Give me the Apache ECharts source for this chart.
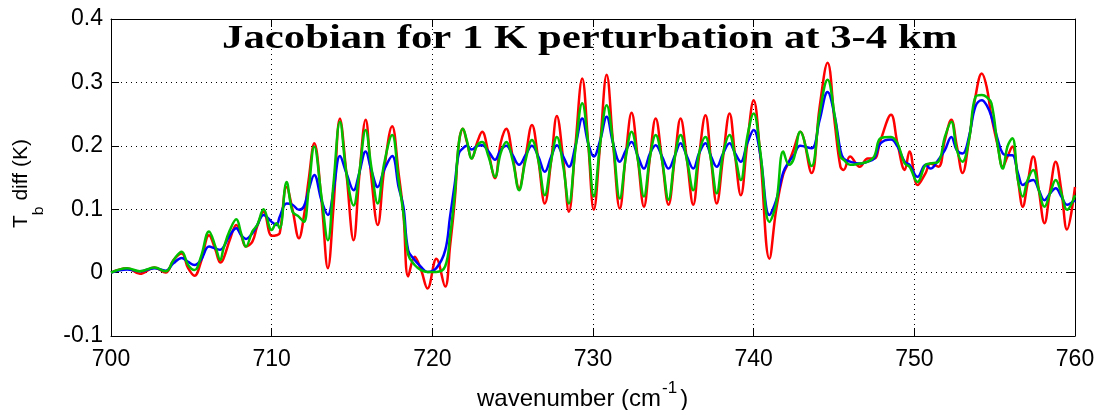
<!DOCTYPE html>
<html>
<head>
<meta charset="utf-8">
<script src="https://cdn.jsdelivr.net/npm/echarts@6/dist/echarts.min.js"></script>
<style>
html,body{margin:0;padding:0;background:#fff;}
#chart{width:1108px;height:410px;}
</style>
</head>
<body>
<div id="chart"></div>
<script>
const titleText = 'Jacobian for 1 K perturbation at 3-4 km';
const xTitleParts = ['wavenumber (cm', '-1', ')'];
const yTitleParts = ['T', 'b', ' diff (K)'];
const xTicks = [700, 710, 720, 730, 740, 750, 760];
const yTicks = [-0.1, 0, 0.1, 0.2, 0.3, 0.4];

const wavenumber = [
700.0,701.0,701.8,702.7,703.4,703.9,704.4,704.8,705.2,705.6,
706.1,706.5,706.8,707.0,707.4,707.8,708.1,708.4,708.8,709.1,
709.5,710.0,710.3,710.5,710.93,711.3,711.7,712.0,712.3,712.65,
713.1,713.5,713.85,714.25,714.65,715.1,715.45,715.85,716.2,716.6,
717.0,717.5,717.9,718.2,718.5,718.9,719.3,719.7,720.25,720.8,
721.1,721.4,721.65,721.9,722.15,722.45,722.8,723.1,723.5,723.9,
724.25,724.6,725.0,725.4,725.8,726.2,726.6,727.0,727.4,727.75,
728.15,728.5,728.9,729.33,729.7,730.05,730.45,730.85,731.25,731.67,
732.05,732.4,732.8,733.17,733.55,733.9,734.3,734.7,735.1,735.45,
735.85,736.24,736.6,737.0,737.35,737.7,738.1,738.5,738.85,739.2,
739.6,740.0,740.4,740.98,741.4,741.84,742.2,742.5,742.9,743.6,
744.1,744.6,745.05,745.4,745.6,746.0,746.6,747.1,747.5,747.9,
748.55,748.95,749.4,749.7,750.2,750.7,751.0,751.5,751.9,752.3,
752.65,753.0,753.4,753.8,754.2,754.5,754.8,755.2,755.5,755.8,
756.1,756.45,756.75,757.05,757.4,757.75,758.1,758.45,758.8,759.15,
759.5,760.0
];

const redTb = [
0.000,0.007,-0.002,0.008,0.000,0.020,0.030,0.007,-0.005,0.017,
0.059,0.036,0.016,0.022,0.052,0.075,0.059,0.041,0.049,0.073,
0.096,0.058,0.059,0.062,0.135,0.099,0.054,0.088,0.146,0.204,
0.114,0.007,0.104,0.243,0.157,0.051,0.151,0.241,0.151,0.075,
0.162,0.231,0.157,0.093,-0.006,0.025,0.004,-0.025,0.022,-0.022,
0.041,0.115,0.204,0.227,0.206,0.180,0.206,0.222,0.188,0.149,
0.204,0.227,0.183,0.133,0.183,0.233,0.177,0.109,0.177,0.247,
0.177,0.096,0.199,0.306,0.204,0.099,0.204,0.312,0.204,0.101,
0.188,0.252,0.177,0.104,0.183,0.243,0.177,0.107,0.183,0.243,
0.177,0.107,0.183,0.248,0.177,0.109,0.183,0.251,0.183,0.122,
0.204,0.272,0.188,0.022,0.099,0.155,0.175,0.195,0.222,0.157,
0.260,0.331,0.235,0.167,0.162,0.183,0.167,0.180,0.180,0.209,
0.249,0.204,0.162,0.191,0.138,0.157,0.172,0.167,0.209,0.241,
0.199,0.157,0.209,0.277,0.314,0.293,0.246,0.199,0.167,0.183,
0.199,0.146,0.104,0.141,0.183,0.130,0.078,0.130,0.175,0.130,
0.068,0.135
];

const greenTb = [
0.000,0.007,0.002,0.008,0.002,0.020,0.033,0.012,0.004,0.025,
0.065,0.041,0.020,0.038,0.067,0.084,0.062,0.041,0.065,0.075,
0.100,0.067,0.078,0.070,0.143,0.096,0.088,0.080,0.130,0.199,
0.120,0.051,0.141,0.238,0.157,0.106,0.157,0.225,0.167,0.109,
0.172,0.217,0.146,0.093,0.028,0.012,0.004,0.001,0.001,0.010,
0.057,0.125,0.204,0.227,0.208,0.180,0.201,0.206,0.183,0.151,
0.188,0.206,0.177,0.130,0.177,0.209,0.177,0.122,0.177,0.214,
0.167,0.109,0.193,0.267,0.204,0.120,0.204,0.264,0.204,0.117,
0.183,0.222,0.177,0.120,0.183,0.217,0.177,0.115,0.183,0.217,
0.177,0.130,0.188,0.214,0.177,0.125,0.188,0.217,0.183,0.146,
0.214,0.251,0.193,0.080,0.109,0.191,0.170,0.180,0.222,0.168,
0.250,0.304,0.246,0.183,0.178,0.170,0.172,0.175,0.183,0.212,
0.214,0.204,0.172,0.167,0.143,0.170,0.172,0.175,0.214,0.238,
0.193,0.175,0.209,0.277,0.280,0.277,0.267,0.199,0.164,0.199,
0.212,0.146,0.120,0.146,0.162,0.130,0.104,0.125,0.146,0.125,
0.099,0.122
];

const blueTb = [
0.000,0.005,0.002,0.007,0.003,0.015,0.023,0.017,0.012,0.020,
0.041,0.038,0.036,0.040,0.059,0.070,0.059,0.053,0.062,0.075,
0.091,0.080,0.075,0.088,0.109,0.107,0.099,0.104,0.130,0.154,
0.114,0.091,0.130,0.184,0.157,0.130,0.157,0.191,0.162,0.135,
0.162,0.184,0.135,0.104,0.035,0.020,0.009,0.001,0.007,0.035,
0.088,0.141,0.188,0.196,0.200,0.194,0.200,0.201,0.191,0.178,
0.193,0.200,0.185,0.170,0.185,0.200,0.183,0.159,0.183,0.201,
0.183,0.167,0.199,0.243,0.204,0.183,0.209,0.246,0.204,0.175,
0.193,0.206,0.183,0.164,0.188,0.201,0.183,0.164,0.185,0.204,
0.183,0.164,0.188,0.204,0.183,0.167,0.188,0.204,0.188,0.175,
0.204,0.225,0.188,0.091,0.114,0.158,0.175,0.185,0.200,0.196,
0.240,0.285,0.246,0.193,0.180,0.175,0.172,0.175,0.180,0.204,
0.210,0.199,0.175,0.170,0.151,0.170,0.164,0.178,0.193,0.214,
0.193,0.188,0.214,0.262,0.272,0.264,0.246,0.209,0.188,0.185,
0.185,0.157,0.138,0.143,0.146,0.130,0.114,0.125,0.133,0.120,
0.107,0.114
];

const toPairs = ys => wavenumber.map((x, i) => [x, ys[i]]);

const font = 'Liberation Sans, Arial, Helvetica, sans-serif';
const mctx = document.createElement('canvas').getContext('2d');
function tw(t, size) { mctx.font = size + 'px ' + font; return mctx.measureText(t).width; }
// zrender draws text with its top at y; alphabetic baseline sits ~0.8465*size below
const topFor = (baseline, size) => baseline - 0.8465 * size;

// x-axis title layout
const xF = 24, xSupF = 17;
const xStart = 477, xBase = 408, xSupBase = 394;
const xw0 = tw(xTitleParts[0], xF);
const xw1 = tw(xTitleParts[1], xSupF);

// y-axis title layout (local, along the text direction)
const yF = 20, ySubF = 15;
const yw0 = tw(yTitleParts[0], yF);
const yw1 = tw(yTitleParts[1], ySubF);

const chart = echarts.init(document.getElementById('chart'), null, {renderer: 'canvas'});
const axisCommon = {
  type: 'value',
  axisLine: {show: true, onZero: false, lineStyle: {color: '#000', width: 1}},
  axisTick: {show: true, inside: true, length: 8, lineStyle: {color: '#000'}},
  splitLine: {show: false}
};

function lineSeries(name, ys, color) {
  return {
    name, type: 'line', data: toPairs(ys), xAxisIndex: 0, yAxisIndex: 0,
    showSymbol: false, smooth: 0.4, animation: false,
    lineStyle: {color, width: 2.5}, itemStyle: {color}
  };
}

function txt(text, x, baseline, size) {
  return {type: 'text', x, y: topFor(baseline, size),
    style: {text, fill: '#000', font: size + 'px ' + font}};
}

chart.setOption({
  animation: false,
  backgroundColor: '#fff',
  grid: {left: 111, right: 33, top: 19, bottom: 74, show: false, containLabel: false, outerBoundsMode: 'none'},
  xAxis: [
    Object.assign({}, axisCommon, {
      min: xTicks[0], max: xTicks[xTicks.length - 1], interval: 10, position: 'bottom',
      axisLabel: {color: '#000', fontFamily: font, fontSize: 23, margin: 12},
      splitLine: {show: true, lineStyle: {color: '#000', type: [1, 4], width: 1}}
    }),
    Object.assign({}, axisCommon, {
      min: xTicks[0], max: xTicks[xTicks.length - 1], interval: 10, position: 'top',
      axisLabel: {show: false}
    })
  ],
  yAxis: [
    Object.assign({}, axisCommon, {
      min: yTicks[0], max: yTicks[yTicks.length - 1], interval: 0.1, position: 'left',
      axisLabel: {color: '#000', fontFamily: font, fontSize: 23, margin: 8,
        formatter: v => (Math.round(v * 10) / 10).toString()},
      splitLine: {show: true, lineStyle: {color: '#000', type: [1, 4], width: 1}}
    }),
    Object.assign({}, axisCommon, {
      min: yTicks[0], max: yTicks[yTicks.length - 1], interval: 0.1, position: 'right',
      axisLabel: {show: false}
    })
  ],
  graphic: [
    {
      type: 'text', x: 222, y: 23, scaleX: 1.296, z: 100,
      style: {text: titleText, fill: '#000', font: 'bold 33px "Liberation Serif", "Times New Roman", serif'}
    },
    {
      type: 'group', z: 100,
      children: [
        txt(xTitleParts[0], xStart, xBase, xF),
        txt(xTitleParts[1], xStart + xw0 + 1, xSupBase, xSupF),
        txt(xTitleParts[2], xStart + xw0 + xw1 + 4, xBase, xF)
      ]
    },
    {
      type: 'group', x: 28, y: 228, rotation: Math.PI / 2, scaleX: 1.05, z: 100,
      children: [
        txt(yTitleParts[0], 0, 0, yF),
        txt(yTitleParts[1], yw0, 16, ySubF),
        txt(yTitleParts[2], yw0 + yw1, 0, yF)
      ]
    }
  ],
  series: [
    lineSeries('red', redTb, '#ff0000'),
    lineSeries('blue', blueTb, '#0000ff'),
    lineSeries('green', greenTb, '#00c000')
  ]
});
</script>
</body>
</html>
